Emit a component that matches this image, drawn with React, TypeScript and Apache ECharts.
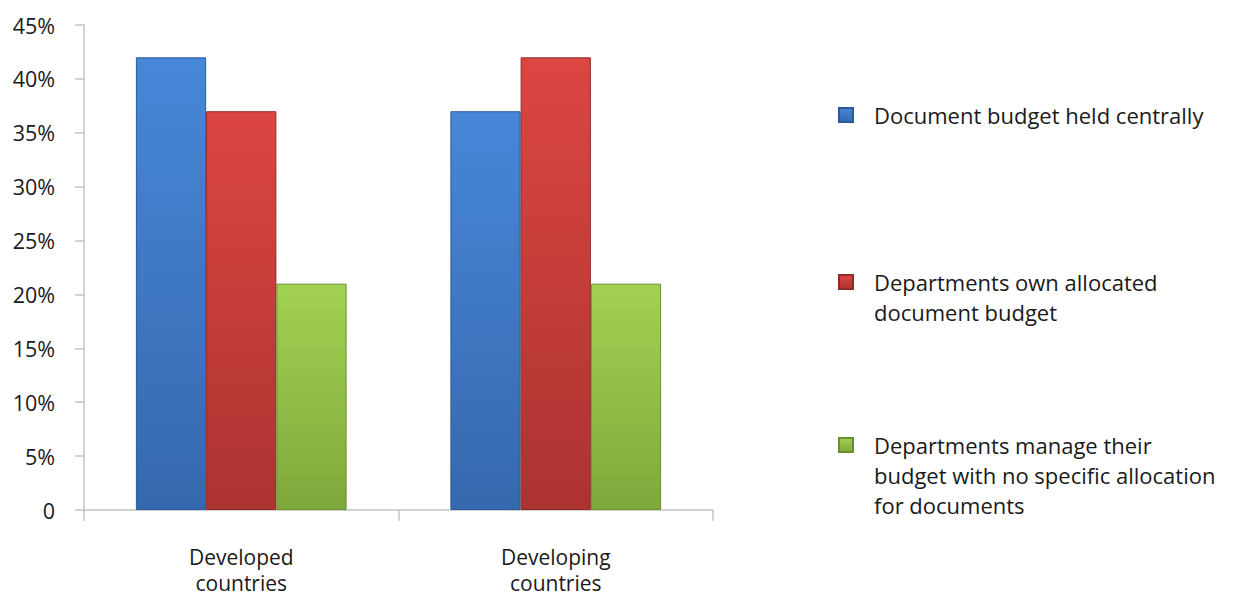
import React, { useEffect, useRef } from "react";
import * as echarts from "echarts";

const categories = ["Developed\ncountries", "Developing\ncountries"];
const seriesNames = [
  "Document budget held centrally",
  "Departments own allocated document budget",
  "Departments manage their budget with no specific allocation for documents",
];
const legendLabels = [
  "Document budget held centrally",
  "Departments own allocated\ndocument budget",
  "Departments manage their\nbudget with no specific allocation\nfor documents",
];
const centralValues = [42, 37];
const departmentValues = [37, 42];
const noAllocationValues = [21, 21];
const yTicks = { min: 0, max: 45, interval: 5 };

const FONT = "Open Sans";

function barStyle(top: string, bottom: string, edge: string) {
  return {
    color: new echarts.graphic.LinearGradient(0, 0, 0, 1, [
      { offset: 0, color: top },
      { offset: 1, color: bottom },
    ]),
    borderColor: edge,
    borderWidth: 1,
  };
}

const palette = [
  { top: "#4787d8", bottom: "#3668ad", edge: "#2c5a98" },
  { top: "#dc4643", bottom: "#ab3331", edge: "#8f2a28" },
  { top: "#a3d152", bottom: "#7fa83b", edge: "#6b8f30" },
];

export default function App() {
  const ref = useRef<HTMLDivElement>(null);
  useEffect(() => {
    if (!ref.current) return;
    const chart = echarts.init(ref.current, null, { renderer: "svg" });
    const values = [centralValues, departmentValues, noAllocationValues];
    const lineH = 30;
    const iconCenters = [115, 282, 445];
    const legends = legendLabels.map((label, i) => {
      const n = label.split("\n").length;
      const h = (2 * n - 1) * lineH;
      return {
        left: 838,
        top: iconCenters[i] - h / 2,
        padding: 0,
        orient: "vertical",
        itemWidth: 14,
        itemHeight: 14,
        icon: "rect",
        selectedMode: false,
        data: [{ name: seriesNames[i] }],
        formatter: () => "\n".repeat(n - 1) + label,
        textStyle: {
          fontFamily: FONT,
          fontSize: 22,
          color: "#1a1a1a",
          lineHeight: lineH,
          padding: [0, 0, 0, 16],
        },
      };
    });
    chart.setOption({
      animation: false,
      backgroundColor: "#ffffff",
      grid: { left: 84, right: 522, top: 25, bottom: 88, containLabel: false },
      legend: legends,
      xAxis: {
        type: "category",
        data: categories,
        axisLine: { lineStyle: { color: "#c4c4c4", width: 1.5 } },
        axisTick: { show: true, length: 11, lineStyle: { color: "#c4c4c4", width: 1.5 } },
        axisLabel: {
          fontFamily: FONT,
          fontSize: 21,
          color: "#1a1a1a",
          lineHeight: 26,
          margin: 34,
        },
      },
      yAxis: {
        type: "value",
        min: yTicks.min,
        max: yTicks.max,
        interval: yTicks.interval,
        splitLine: { show: false },
        axisLine: { show: true, lineStyle: { color: "#c4c4c4", width: 1.5 } },
        axisTick: { show: true, length: 9, lineStyle: { color: "#c4c4c4", width: 1.5 } },
        axisLabel: {
          fontFamily: FONT,
          fontSize: 21.5,
          color: "#1a1a1a",
          margin: 29,
          formatter: (v: number) => (v === 0 ? "0" : v + "%"),
        },
      },
      series: seriesNames.map((name, i) => ({
        name,
        type: "bar",
        data: values[i],
        barGap: "0%",
        barCategoryGap: "33%",
        itemStyle: barStyle(palette[i].top, palette[i].bottom, palette[i].edge),
      })),
    });
    return () => chart.dispose();
  }, []);
  return (
    <div
      ref={ref}
      style={{ position: "fixed", left: 0, top: 0, width: 1235, height: 598, background: "#fff" }}
    />
  );
}
